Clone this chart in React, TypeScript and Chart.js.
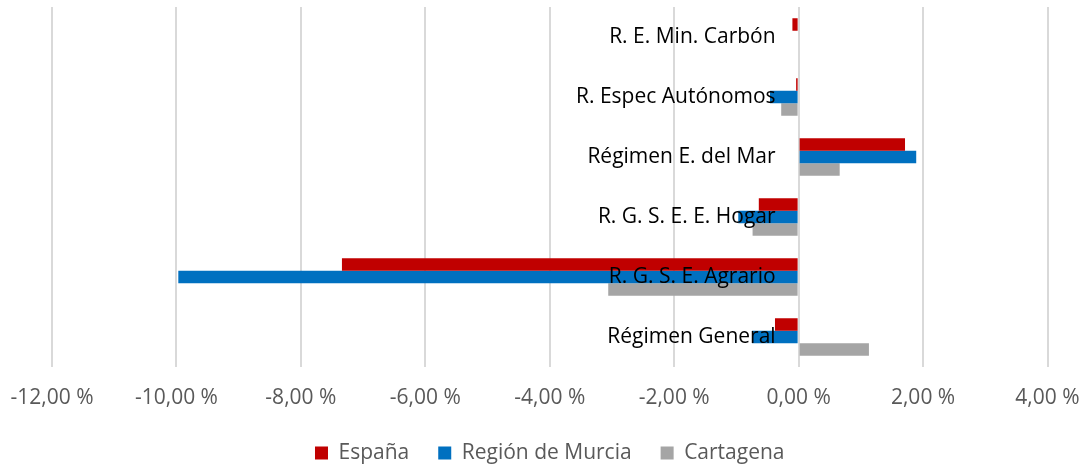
import React, { useEffect, useRef } from "react";
import { Chart, registerables } from "chart.js";

Chart.register(...registerables);

const categories = [
  "R. E. Min. Carbón",
  "R. Espec Autónomos",
  "Régimen E. del Mar",
  "R. G. S. E. E. Hogar",
  "R. G. S. E. Agrario",
  "Régimen General",
];
const seriesNames = ["España", "Región de Murcia", "Cartagena"];
const espana = [-0.1, -0.04, 1.71, -0.64, -7.34, -0.38];
const murcia = [null, -0.46, 1.89, -0.97, -9.97, -0.75];
const cartagena = [null, -0.28, 0.66, -0.74, -3.06, 1.13];
const xMin = -12;
const xMax = 4;
const xStep = 2;
// value on the x scale where the category labels are anchored (Excel "next to axis")
const labelAnchor = -0.37;
const colors = ["#C00000", "#0070C0", "#A5A5A5"];

const FONT = "'Open Sans'";

export default function App() {
  const ref = useRef<HTMLCanvasElement | null>(null);
  useEffect(() => {
    if (!ref.current) return;
    const chart = new Chart(ref.current, {
      type: "bar",
      data: {
        labels: categories,
        datasets: [espana, murcia, cartagena].map((d, i) => ({
          label: seriesNames[i],
          data: d,
          backgroundColor: colors[i],
          borderWidth: 0,
          categoryPercentage: 0.625,
          barPercentage: 1,
        })),
      },
      options: {
        animation: false,
        responsive: true,
        maintainAspectRatio: false,
        indexAxis: "y",
        layout: { padding: { left: 52, right: 40.5, top: 7, bottom: -5.5 } },
        scales: {
          x: {
            min: xMin,
            max: xMax,
            ticks: {
              stepSize: xStep,
              padding: 0,
              color: "#595959",
              font: { family: FONT, size: 21 },
              callback: (v: any) => Number(v).toFixed(2).replace(".", ",") + " %",
            },
            grid: {
              color: "#D9D9D9",
              lineWidth: 2,
              drawTicks: true,
              tickLength: 18,
              tickColor: "rgba(0,0,0,0)",
            },
            border: { display: false },
            afterFit: (s: any) => {
              s.height = 46.5;
            },
          },
          y: {
            position: { x: labelAnchor } as any,
            grid: { display: false, drawTicks: false },
            border: { display: false },
            ticks: {
              z: 1,
              padding: 0,
              color: "#000000",
              font: { family: FONT, size: 21, lineHeight: 0.6 },
            },
          },
        },
        plugins: {
          legend: {
            position: "bottom",
            labels: {
              boxWidth: 13,
              boxHeight: 13,
              padding: 29,
              color: "#595959",
              font: { family: FONT, size: 21 },
            },
          },
          tooltip: { enabled: false },
        },
      },
    });
    return () => chart.destroy();
  }, []);
  return (
    <div style={{ position: "absolute", left: 0, top: 0, width: 1088, height: 468 }}>
      <canvas ref={ref} />
    </div>
  );
}
